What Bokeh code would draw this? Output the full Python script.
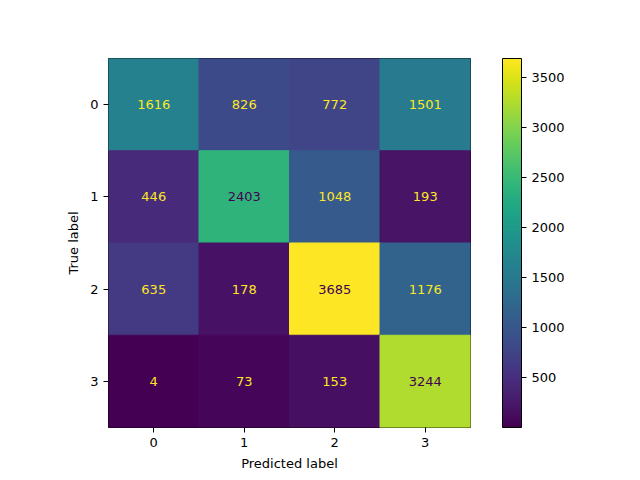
from bokeh.plotting import figure
from bokeh.models import LinearColorMapper, ColorBar, FixedTicker, ColumnDataSource
from bokeh.palettes import Viridis256
from bokeh.transform import transform
from bokeh.core.properties import value
from bokeh.embed import file_html
from bokeh.resources import INLINE

labels = [0, 1, 2, 3]
matrix = [[1616, 826, 772, 1501],
          [446, 2403, 1048, 193],
          [635, 178, 3685, 1176],
          [4, 73, 153, 3244]]

xs, ys, vals, txt, tcol = [], [], [], [], []
vmin = min(min(r) for r in matrix)
vmax = max(max(r) for r in matrix)
thresh = (vmin + vmax) / 2
for i, row in enumerate(matrix):
    for j, v in enumerate(row):
        xs.append(labels[j]); ys.append(labels[i]); vals.append(v)
        txt.append(str(v))
        tcol.append("#440154" if v > thresh else "#fde725")

mapper = LinearColorMapper(palette=Viridis256, low=vmin, high=vmax)

p = figure(frame_width=362, frame_height=369, x_range=(-0.5, 3.5), y_range=(3.5, -0.5),
           output_backend="svg", toolbar_location=None,
           min_border_left=108, min_border_top=58, min_border_bottom=45)
src = ColumnDataSource(dict(x=xs, y=ys, v=vals, t=txt, c=tcol))
p.rect(x='x', y='y', width=1, height=1, fill_color=transform('v', mapper),
       line_color=transform('v', mapper), line_width=1, source=src)
p.text(x='x', y='y', text='t', text_color='c', text_align='center', text_baseline='middle',
       text_font=value("DejaVu Sans"), text_font_size='13px', source=src)

p.grid.visible = False
p.outline_line_color = 'black'
p.xaxis.ticker = FixedTicker(ticks=labels)
p.yaxis.ticker = FixedTicker(ticks=labels)
p.xaxis.axis_label = "Predicted label"
p.yaxis.axis_label = "True label"
for ax in (p.xaxis[0], p.yaxis[0]):
    ax.axis_label_text_font = "DejaVu Sans"
    ax.axis_label_text_font_style = "normal"
    ax.axis_label_text_font_size = "13px"
    ax.axis_label_text_color = "black"
    ax.major_label_text_font = "DejaVu Sans"
    ax.major_label_text_font_size = "13px"
    ax.major_label_text_color = "black"
    ax.major_tick_line_color = "black"
    ax.minor_tick_line_color = None
    ax.major_tick_out = 5
    ax.major_tick_in = 0
    ax.axis_line_color = None
    ax.axis_label_standoff = 6
p.yaxis.major_label_orientation = 0

cb = ColorBar(color_mapper=mapper, width=19, height=369, padding=0, margin=0,
              ticker=FixedTicker(ticks=[500, 1000, 1500, 2000, 2500, 3000, 3500]),
              major_label_text_font="DejaVu Sans", major_label_text_font_size="13px",
              major_label_text_color="black",
              major_tick_line_color="black", major_tick_out=5, major_tick_in=0,
              bar_line_color="black", location=(32, 0))
p.add_layout(cb, "right")

open("out.html", "w").write(file_html(p, INLINE))
